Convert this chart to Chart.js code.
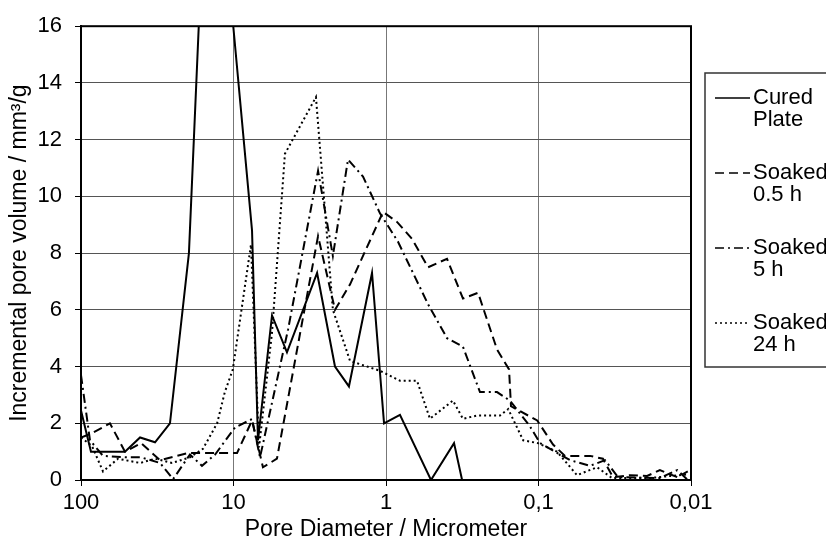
<!DOCTYPE html>
<html>
<head>
<meta charset="utf-8">
<script src="https://cdn.jsdelivr.net/npm/chart.js@4.4.1/dist/chart.umd.min.js"></script>
<style>
  html, body { margin: 0; padding: 0; background: #fff; }
  #wrap { width: 826px; height: 543px; position: relative; }
</style>
</head>
<body>
<div id="wrap"><canvas id="porosity"></canvas></div>
<script>
// pore diameter (micrometer) / incremental pore volume (mm3/g)
const curedDiam = [100, 86.0, 51.5, 41.0, 32.7, 26.1, 19.6, 14.3, 7.56, 6.91, 5.59, 4.46, 2.83, 2.16, 1.75, 1.235, 1.03, 0.81, 0.507, 0.358, 0.317];
const curedVol  = [2.45, 1.0, 1.0, 1.5, 1.33, 2.0, 8.0, 25, 8.8, 1.4, 5.8, 4.5, 7.3, 4.0, 3.3, 7.3, 2.0, 2.3, 0, 1.3, 0];

const soak05Diam = [100, 84.7, 64.6, 51.5, 40.4, 30.3, 19.9, 12.3, 9.48, 7.56, 6.41, 5.19, 2.79, 2.16, 1.72, 1.046, 0.847, 0.675, 0.53, 0.398, 0.313, 0.249, 0.187, 0.156, 0.1515, 0.102, 0.0803, 0.067, 0.0459, 0.0378, 0.0325, 0.0251, 0.0194, 0.016, 0.0123, 0.0105];
const soak05Vol  = [1.5, 1.65, 2.0, 1.0, 1.3, 0.7, 0.95, 0.95, 0.95, 2.1, 0.45, 0.75, 8.6, 6.0, 6.9, 9.45, 9.1, 8.5, 7.5, 7.8, 6.4, 6.6, 4.6, 3.9, 2.6, 2.1, 1.25, 0.85, 0.85, 0.75, 0.1, 0.17, 0.14, 0.35, 0.1, 0.3];

const soak5Diam = [100, 87.3, 71.7, 51.5, 40.4, 30.3, 24.9, 19.3, 16.1, 13.2, 9.78, 7.56, 6.70, 4.39, 2.79, 2.23, 1.775, 1.415, 1.095, 0.834, 0.53, 0.398, 0.313, 0.242, 0.187, 0.154, 0.114, 0.0977, 0.078, 0.0621, 0.0459, 0.0366, 0.0301, 0.016, 0.0123, 0.0105];
const soak5Vol  = [3.7, 1.4, 0.85, 0.8, 0.8, 0.6, 0.03, 0.9, 0.5, 0.9, 1.85, 2.15, 0.8, 5.3, 10.9, 7.9, 11.3, 10.7, 9.4, 8.4, 6.2, 5.0, 4.7, 3.1, 3.1, 2.8, 1.9, 1.3, 1.0, 0.7, 0.5, 0.7, 0.1, 0.07, 0.35, 0];

const soak24Diam = [100, 84.7, 71.7, 57.2, 41.0, 32.7, 25.3, 19.3, 15.85, 12.8, 11.4, 10.1, 7.68, 6.80, 5.59, 4.60, 2.88, 2.23, 1.722, 1.095, 0.81, 0.626, 0.515, 0.364, 0.313, 0.253, 0.179, 0.158, 0.126, 0.101, 0.0756, 0.0559, 0.0413, 0.033, 0.0186, 0.0137, 0.0105];
const soak24Vol  = [1.5, 1.2, 0.3, 0.75, 0.6, 0.75, 0.6, 0.8, 1.1, 2.0, 3.1, 3.9, 8.3, 1.15, 5.2, 11.5, 13.5, 6.0, 4.2, 3.85, 3.5, 3.5, 2.16, 2.8, 2.16, 2.27, 2.27, 2.5, 1.4, 1.3, 1.0, 0.17, 0.45, 0.07, 0.07, 0.14, 0.2];

const seriesLabels = ['Cured\nPlate', 'Soaked\n0.5 h', 'Soaked\n5 h', 'Soaked\n24 h'];
const xTickValues = [100, 10, 1, 0.1, 0.01];
const xTickLabels = ['100', '10', '1', '0,1', '0,01'];
const yTickLabels = ['0', '2', '4', '6', '8', '10', '12', '14', '16'];

const FONT = "'Liberation Sans', Arial, sans-serif";

const toPoints = (xs, ys) => xs.map((x, i) => ({ x: x, y: ys[i] }));

const boxLegend = {
    id: 'boxLegend',
    afterDraw(chart) {
        const ctx = chart.ctx;
        ctx.save();
        ctx.strokeStyle = '#333';
        ctx.lineWidth = 1.5;
        ctx.strokeRect(705, 73, 140, 294);
        ctx.font = '22px ' + FONT;
        ctx.fillStyle = '#000';
        ctx.textBaseline = 'middle';
        chart.data.datasets.forEach((ds, i) => {
            const y = 98 + i * 75;
            ctx.beginPath();
            ctx.setLineDash(ds.borderDash || []);
            ctx.lineWidth = 1.5;
            ctx.strokeStyle = '#000';
            ctx.moveTo(715, y);
            ctx.lineTo(750, y);
            ctx.stroke();
            ctx.setLineDash([]);
            ds.label.split('\n').forEach((line, j) => {
                ctx.fillText(line, 753, y + j * 22);
            });
        });
        ctx.restore();
    }
};

const plotFrame = {
    id: 'plotFrame',
    afterDatasetsDraw(chart) {
        const a = chart.chartArea;
        const ctx = chart.ctx;
        ctx.save();
        ctx.strokeStyle = '#000';
        ctx.lineWidth = 2;
        ctx.strokeRect(a.left, a.top, a.right - a.left, a.bottom - a.top);
        ctx.restore();
    }
};

const ctx = document.getElementById('porosity').getContext('2d');

const chart = new Chart(ctx, {
    type: 'line',
    data: {
        datasets: [{
            label: seriesLabels[0],
            data: toPoints(curedDiam, curedVol),
            borderColor: '#000',
            borderWidth: 2,
            borderDash: []
        }, {
            label: seriesLabels[1],
            data: toPoints(soak05Diam, soak05Vol),
            borderColor: '#000',
            borderWidth: 2,
            borderDash: [9, 5]
        }, {
            label: seriesLabels[2],
            data: toPoints(soak5Diam, soak5Vol),
            borderColor: '#000',
            borderWidth: 2,
            borderDash: [9, 4, 2, 4]
        }, {
            label: seriesLabels[3],
            data: toPoints(soak24Diam, soak24Vol),
            borderColor: '#000',
            borderWidth: 2,
            borderDash: [2, 3]
        }]
    },
    options: {
        responsive: true,
        maintainAspectRatio: false,
        animation: false,
        layout: { padding: { top: 22, right: 135, left: 0, bottom: 0 } },
        elements: {
            line: { tension: 0, fill: false },
            point: { radius: 0 }
        },
        plugins: {
            legend: { display: false },
            tooltip: { enabled: false }
        },
        scales: {
            x: {
                type: 'logarithmic',
                reverse: true,
                min: 0.01,
                max: 100,
                afterBuildTicks: (scale) => {
                    scale.ticks = xTickValues.map(v => ({ value: v }));
                },
                afterFit: (scale) => { scale.height = 63; },
                ticks: {
                    autoSkip: false,
                    maxRotation: 0,
                    padding: 4,
                    color: '#000',
                    font: { family: FONT, size: 22 },
                    callback: (value, index) => xTickLabels[index]
                },
                grid: { color: '#777', lineWidth: 1, tickLength: 6, tickColor: '#000' },
                border: { color: '#000', width: 2 },
                title: {
                    display: true,
                    text: 'Pore Diameter / Micrometer',
                    color: '#000',
                    font: { family: FONT, size: 23 },
                    padding: { top: 0, bottom: 0 }
                }
            },
            y: {
                min: 0,
                max: 16,
                afterFit: (scale) => { scale.width = 81; },
                ticks: {
                    stepSize: 2,
                    padding: 13,
                    color: '#000',
                    font: { family: FONT, size: 22 },
                    callback: (value, index) => yTickLabels[index]
                },
                grid: { color: '#555', lineWidth: 1, tickLength: 6, tickColor: '#000' },
                border: { color: '#000', width: 2 },
                title: {
                    display: true,
                    text: 'Incremental pore volume / mm³/g',
                    color: '#000',
                    font: { family: FONT, size: 23 },
                    padding: { top: 6, bottom: 0 }
                }
            }
        }
    },
    plugins: [plotFrame, boxLegend]
});
</script>
</body>
</html>
